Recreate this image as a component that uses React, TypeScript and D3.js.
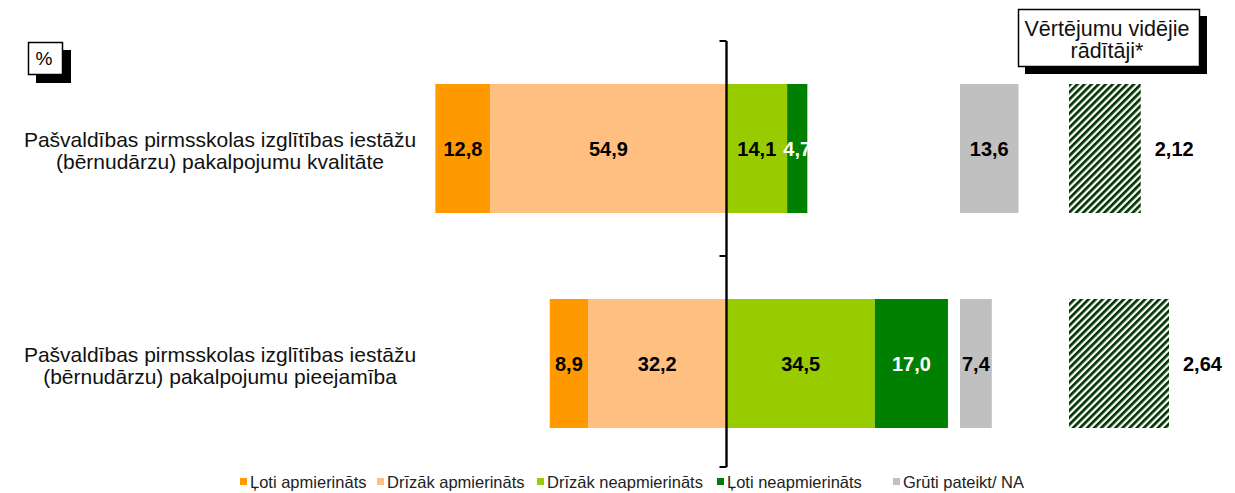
import React, { useEffect, useRef } from "react";
import * as d3 from "d3";

// row labels (two lines each)
const categories = [
  ["Pašvaldības pirmsskolas izglītības iestāžu", "(bērnudārzu) pakalpojumu kvalitāte"],
  ["Pašvaldības pirmsskolas izglītības iestāžu", "(bērnudārzu) pakalpojumu pieejamība"],
];
const seriesNames = [
  "Ļoti apmierināts",
  "Drīzāk apmierināts",
  "Drīzāk neapmierināts",
  "Ļoti neapmierināts",
  "Grūti pateikt/ NA",
];
const colors = ["#FF9900", "#FFBF80", "#99CC00", "#008000", "#C0C0C0"];

const verySatisfied = [12.8, 8.9];
const ratherSatisfied = [54.9, 32.2];
const ratherUnsatisfied = [14.1, 34.5];
const veryUnsatisfied = [4.7, 17.0];
const hardToSay = [13.6, 7.4];
const averages = [2.12, 2.64];

const W = 1235;
const H = 493;
const FONT = "'Liberation Sans', Arial, sans-serif";

const fmt1 = (v: number) => d3.format(".1f")(v).replace(".", ",");
const fmt2 = (v: number) => d3.format(".2f")(v).replace(".", ",");

const App: React.FC = () => {
  const ref = useRef<SVGSVGElement | null>(null);

  useEffect(() => {
    const svg = d3.select(ref.current);
    svg.selectAll("*").remove();

    const zero = 726.5;
    const x = d3.scaleLinear().domain([0, 100]).range([zero, zero + 430]);
    const xGray = d3.scaleLinear().domain([0, 100]).range([960, 1390]);
    const xAvg = d3.scaleLinear().domain([0.8, 2.64]).range([1069, 1169]);

    const ids = categories.map((_, i) => String(i));
    const y = d3
      .scaleBand<string>()
      .domain(ids)
      .range([41, 471])
      .paddingInner(0.4)
      .paddingOuter(0.2);
    const axisTop = 41;
    const axisBottom = 467;

    const defs = svg.append("defs");
    const pat = defs
      .append("pattern")
      .attr("id", "hatch")
      .attr("width", 5)
      .attr("height", 5)
      .attr("patternUnits", "userSpaceOnUse")
      .attr("patternTransform", "rotate(45)");
    pat.append("rect").attr("width", 5).attr("height", 5).attr("fill", "#fff");
    pat.append("rect").attr("width", 2.7).attr("height", 5).attr("fill", "#003300");

    svg.append("rect").attr("width", W).attr("height", H).attr("fill", "#fff");

    // segments
    type Seg = { row: number; s: number; from: number; to: number; v: number };
    const segs: Seg[] = [];
    ids.forEach((_, i) => {
      const vs = verySatisfied[i];
      const rs = ratherSatisfied[i];
      const ru = ratherUnsatisfied[i];
      const vu = veryUnsatisfied[i];
      segs.push({ row: i, s: 0, from: -(vs + rs), to: -rs, v: vs });
      segs.push({ row: i, s: 1, from: -rs, to: 0, v: rs });
      segs.push({ row: i, s: 2, from: 0, to: ru, v: ru });
      segs.push({ row: i, s: 3, from: ru, to: ru + vu, v: vu });
    });

    const neg = (v: number) => zero - (x(Math.abs(v)) - zero);
    const px = (v: number) => (v < 0 ? neg(v) : x(v));

    const g = svg.append("g");
    g.selectAll("rect.seg")
      .data(segs)
      .enter()
      .append("rect")
      .attr("class", "seg")
      .attr("x", (d) => Math.min(px(d.from), px(d.to)))
      .attr("y", (d) => y(String(d.row))!)
      .attr("width", (d) => Math.abs(px(d.to) - px(d.from)))
      .attr("height", y.bandwidth())
      .attr("fill", (d) => colors[d.s]);

    g.selectAll("text.seg")
      .data(segs)
      .enter()
      .append("text")
      .attr("x", (d) => (px(d.from) + px(d.to)) / 2)
      .attr("y", (d) => y(String(d.row))! + y.bandwidth() / 2)
      .attr("dy", "0.36em")
      .attr("text-anchor", "middle")
      .attr("font-family", FONT)
      .attr("font-size", 20)
      .attr("font-weight", "bold")
      .attr("fill", (d) => (d.s === 3 ? "#fff" : "#000"))
      .text((d) => fmt1(d.v));

    // hard to say
    g.selectAll("rect.gray")
      .data(hardToSay)
      .enter()
      .append("rect")
      .attr("x", xGray(0))
      .attr("y", (_, i) => y(String(i))!)
      .attr("width", (d) => xGray(d) - xGray(0))
      .attr("height", y.bandwidth())
      .attr("fill", colors[4]);
    g.selectAll("text.gray")
      .data(hardToSay)
      .enter()
      .append("text")
      .attr("x", (d) => (xGray(d) + xGray(0)) / 2)
      .attr("y", (_, i) => y(String(i))! + y.bandwidth() / 2)
      .attr("dy", "0.36em")
      .attr("text-anchor", "middle")
      .attr("font-family", FONT)
      .attr("font-size", 20)
      .attr("font-weight", "bold")
      .attr("fill", "#000")
      .text((d) => fmt1(d));

    // averages
    g.selectAll("rect.avg")
      .data(averages)
      .enter()
      .append("rect")
      .attr("x", xAvg(0.8))
      .attr("y", (_, i) => y(String(i))!)
      .attr("width", (d) => xAvg(d) - xAvg(0.8))
      .attr("height", y.bandwidth())
      .attr("fill", "url(#hatch)");
    g.selectAll("text.avg")
      .data(averages)
      .enter()
      .append("text")
      .attr("x", (d) => xAvg(d) + 14)
      .attr("y", (_, i) => y(String(i))! + y.bandwidth() / 2)
      .attr("dy", "0.36em")
      .attr("font-family", FONT)
      .attr("font-size", 20)
      .attr("font-weight", "bold")
      .attr("fill", "#000")
      .text((d) => fmt2(d));

    // axis line and ticks
    svg
      .append("line")
      .attr("x1", zero)
      .attr("x2", zero)
      .attr("y1", axisTop)
      .attr("y2", axisBottom)
      .attr("stroke", "#000")
      .attr("stroke-width", 2.4);
    const tickYs = [
      axisTop,
      ...ids.slice(1).map((id) => y(id)! - (y.step() * y.paddingInner()) / 2),
      axisBottom,
    ];
    tickYs.forEach((ty) => {
      svg
        .append("line")
        .attr("x1", zero - 7)
        .attr("x2", zero)
        .attr("y1", ty)
        .attr("y2", ty)
        .attr("stroke", "#000")
        .attr("stroke-width", 2);
    });

    // category labels
    categories.forEach((lines, i) => {
      const cy = y(String(i))! + y.bandwidth() / 2;
      const t = svg
        .append("text")
        .attr("text-anchor", "middle")
        .attr("font-family", FONT)
        .attr("font-size", 21)
        .attr("fill", "#111");
      lines.forEach((ln, j) => {
        t.append("tspan")
          .attr("x", 220)
          .attr("y", cy - 9 + j * 22)
          .attr("dy", "0.36em")
          .text(ln);
      });
    });

    // "%" box
    svg.append("rect").attr("x", 36).attr("y", 50).attr("width", 35).attr("height", 33).attr("fill", "#000");
    svg
      .append("rect")
      .attr("x", 28.5)
      .attr("y", 42.5)
      .attr("width", 34)
      .attr("height", 32)
      .attr("fill", "#fff")
      .attr("stroke", "#000")
      .attr("stroke-width", 1.5);
    svg
      .append("text")
      .attr("x", 44)
      .attr("y", 58)
      .attr("dy", "0.36em")
      .attr("text-anchor", "middle")
      .attr("font-family", FONT)
      .attr("font-size", 19)
      .text("%");

    // averages title box
    svg.append("rect").attr("x", 1025).attr("y", 16).attr("width", 182).attr("height", 58).attr("fill", "#000");
    svg
      .append("rect")
      .attr("x", 1018.5)
      .attr("y", 9.5)
      .attr("width", 181)
      .attr("height", 57)
      .attr("fill", "#fff")
      .attr("stroke", "#000")
      .attr("stroke-width", 1.5);
    const tt = svg
      .append("text")
      .attr("text-anchor", "middle")
      .attr("font-family", FONT)
      .attr("font-size", 21.5)
      .attr("fill", "#111");
    ["Vērtējumu vidējie", "rādītāji*"].forEach((ln, j) => {
      tt.append("tspan")
        .attr("x", 1107)
        .attr("y", 28 + j * 22)
        .attr("dy", "0.36em")
        .text(ln);
    });

    // legend
    const legendX = [240, 377, 537, 717, 893];
    const lg = svg
      .selectAll("g.leg")
      .data(seriesNames)
      .enter()
      .append("g")
      .attr("transform", (_, i) => `translate(${legendX[i]},478)`);
    lg.append("rect").attr("width", 7).attr("height", 7).attr("fill", (_, i) => colors[i]);
    lg.append("text")
      .attr("x", 10)
      .attr("y", 4)
      .attr("dy", "0.36em")
      .attr("font-family", FONT)
      .attr("font-size", 16.5)
      .attr("fill", "#222")
      .text((d) => d);
  }, []);

  return (
    <svg
      ref={ref}
      width={W}
      height={H}
      viewBox={`0 0 ${W} ${H}`}
      style={{ position: "absolute", left: 0, top: 0 }}
    />
  );
};

export default App;
